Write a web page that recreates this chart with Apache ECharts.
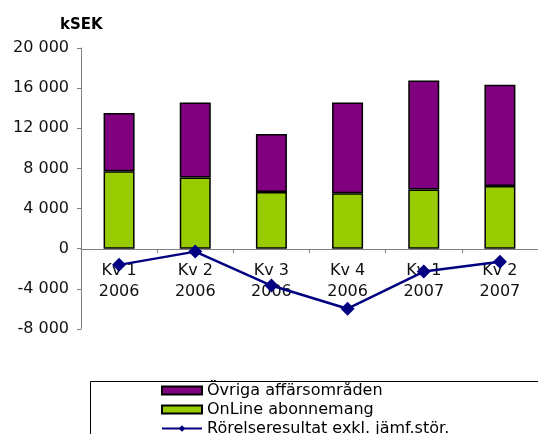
<!DOCTYPE html>
<html>
<head>
<meta charset="utf-8">
<script src="https://cdn.jsdelivr.net/npm/echarts@6/dist/echarts.min.js"></script>
<style>
  html, body { margin: 0; padding: 0; background: #fff; }
  #chart { width: 538px; height: 434px; }
</style>
</head>
<body>
<div id="chart"></div>
<script>
var categories = ['Kv 1\n2006', 'Kv 2\n2006', 'Kv 3\n2006', 'Kv 4\n2006', 'Kv 1\n2007', 'Kv 2\n2007'];
var online = [7730, 7100, 5650, 5520, 5910, 6240];
var ovriga = [5800, 7460, 5790, 9040, 10840, 10110];
var rorelse = [-1610, -290, -3670, -5980, -2280, -1310];
var seriesNames = ['Övriga affärsområden', 'OnLine abonnemang', 'Rörelseresultat exkl. jämf.stör.'];

var chart = echarts.init(document.getElementById('chart'));
var font = 'DejaVu Sans';

var option = {
    animation: false,
    textStyle: { fontFamily: font },
    title: {
        text: 'kSEK',
        left: 55,
        top: 13,
        textStyle: { fontFamily: font, fontSize: 15, fontWeight: 'bold', color: '#000' }
    },
    grid: { left: 81, right: -2, top: 48, bottom: 105 },
    legend: {
        orient: 'vertical',
        left: 161,
        top: 381,
        height: 120,
        padding: 0,
        itemGap: 0,
        itemWidth: 40,
        itemHeight: 8,
        data: [
            { name: seriesNames[0], icon: 'rect' },
            { name: seriesNames[1], icon: 'rect' },
            { name: seriesNames[2] }
        ],
        textStyle: { fontFamily: font, fontSize: 16, lineHeight: 19, color: '#000' }
    },
    graphic: [{
        type: 'rect',
        left: 88,
        top: 379,
        shape: { width: 470, height: 80 },
        style: { fill: 'none', stroke: '#000', lineWidth: 1 },
        z: -1
    }],
    xAxis: {
        type: 'category',
        data: categories,
        offset: -80,
        axisLine: { onZero: false, lineStyle: { color: '#808080', width: 1 } },
        axisTick: { show: true, length: 4, lineStyle: { color: '#808080' } },
        axisLabel: { color: '#111', fontSize: 16, lineHeight: 21, margin: 11 }
    },
    yAxis: {
        type: 'value',
        min: -8000,
        max: 20000,
        interval: 4000,
        splitLine: { show: false },
        axisLine: { show: true, lineStyle: { color: '#808080', width: 1 } },
        axisTick: { show: true, length: 4, lineStyle: { color: '#808080' } },
        axisLabel: {
            color: '#111',
            fontSize: 16,
            margin: 12,
            formatter: function (v) {
                var s = Math.abs(v).toString().replace(/\B(?=(\d{3})+(?!\d))/g, ' ');
                return (v < 0 ? '-' : '') + s;
            }
        }
    },
    series: [
        {
            name: seriesNames[1],
            type: 'bar',
            stack: 'total',
            barWidth: 31,
            data: online,
            itemStyle: { color: '#99CC00', borderColor: '#000', borderWidth: 1.5 }
        },
        {
            name: seriesNames[0],
            type: 'bar',
            stack: 'total',
            barWidth: 31,
            data: ovriga,
            itemStyle: { color: '#800080', borderColor: '#000', borderWidth: 1.5 }
        },
        {
            name: seriesNames[2],
            type: 'line',
            data: rorelse,
            symbol: 'diamond',
            symbolSize: 14,
            z: 10,
            lineStyle: { color: '#000080', width: 2.5 },
            itemStyle: { color: '#000080' }
        }
    ]
};
chart.setOption(option);
</script>
</body>
</html>
